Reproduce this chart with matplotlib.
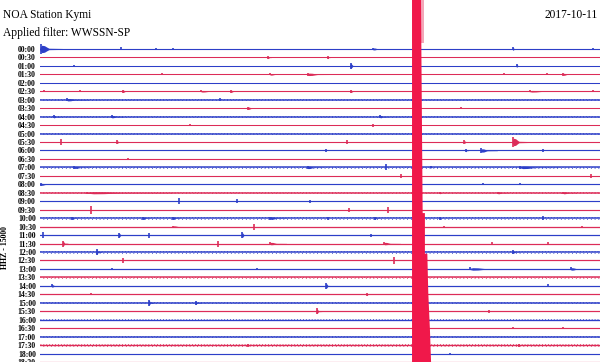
# Helicorder plot - NOA station Kymi, 2017-10-11
import matplotlib
matplotlib.use('Agg')
import matplotlib.pyplot as plt
import numpy as np

# ---- data -------------------------------------------------------------
row_labels = ['%02d:%02d' % (h, m) for h in range(19) for m in (0, 30)][:38]

# background noise level per 30-min line (fraction of line spacing)
noise_level = [0.05, 0.04, 0.04, 0.04, 0.04, 0.05, 0.12, 0.04, 0.12, 0.04,
               0.12, 0.05, 0.06, 0.05, 0.12, 0.05, 0.06, 0.12, 0.06, 0.06,
               0.12, 0.08, 0.07, 0.07, 0.12, 0.07, 0.07, 0.12, 0.07, 0.07,
               0.12, 0.07, 0.09, 0.06, 0.12, 0.10, 0.06, 0.06]

# local events: line index, onset (minutes), amplitude (fraction of spacing), duration (minutes)
ev_row = [0, 0, 0, 0, 0, 0, 0,
          1, 1, 2, 2, 2,
          3, 3, 3, 3, 3, 3,
          5, 5, 5, 5, 5, 5, 5, 5,
          6, 6, 7, 7, 8, 8, 8, 9, 9,
          11, 11, 11, 11, 11,
          12, 12, 12, 12, 13,
          14, 14, 14, 14, 14, 15, 15, 16, 16, 16,
          17, 17, 17, 17, 18, 18, 18, 19, 19, 19,
          20, 20, 20, 20, 20, 20, 20, 20,
          21, 21, 21, 21, 22, 22, 22, 22, 22,
          23, 23, 23, 23, 23, 23, 24, 24, 25, 25,
          26, 26, 26, 26, 28, 28, 28, 29, 29,
          30, 30, 31, 31, 33, 33, 35, 35, 36]
ev_time = [0.0, 4.3, 6.2, 7.1, 17.8, 25.3, 29.6,
           12.2, 15.4, 1.8, 16.6, 25.5,
           6.5, 12.3, 14.3, 24.8, 27.1, 28.0,
           0.2, 2.1, 4.4, 8.6, 10.2, 16.6, 26.2, 29.6,
           1.4, 9.6, 11.1, 22.5, 0.7, 3.8, 18.2, 8.0, 17.8,
           1.1, 4.1, 16.4, 22.7, 25.3,
           15.3, 22.8, 23.6, 26.9, 4.7,
           1.8, 14.3, 18.5, 20.9, 25.7, 19.3, 29.5, 0.0, 23.7, 25.7,
           2.5, 21.4, 24.5, 28.0, 7.4, 10.5, 14.4, 2.7, 16.5, 18.6,
           1.7, 5.5, 7.1, 12.3, 15.4, 17.9, 21.4, 26.9,
           7.1, 11.4, 21.6, 29.0, 0.1, 4.2, 5.8, 10.8, 17.7,
           1.2, 9.5, 12.3, 18.4, 24.2, 27.2, 3.0, 25.3, 4.4, 18.9,
           3.8, 11.6, 23.0, 28.4, 0.6, 15.3, 27.2, 2.7, 17.5,
           5.8, 8.3, 14.8, 24.0, 25.3, 28.0, 11.1, 25.6, 21.9]
ev_amp = [0.55, 0.18, 0.12, 0.12, 0.15, 0.18, 0.12,
          0.18, 0.18, 0.12, 0.35, 0.18,
          0.12, 0.12, 0.18, 0.12, 0.12, 0.15,
          0.12, 0.12, 0.18, 0.12, 0.15, 0.18, 0.12, 0.12,
          0.18, 0.18, 0.18, 0.12, 0.18, 0.18, 0.18, 0.12, 0.18,
          0.35, 0.18, 0.18, 0.18, 0.55,
          0.18, 0.18, 0.25, 0.18, 0.12,
          0.15, 0.18, 0.35, 0.12, 0.18, 0.25, 0.25, 0.15, 0.12, 0.12,
          0.15, 0.15, 0.15, 0.15, 0.35, 0.25, 0.18, 0.45, 0.25, 0.35,
          0.18, 0.18, 0.18, 0.18, 0.18, 0.18, 0.18, 0.25,
          0.12, 0.35, 0.12, 0.12, 0.35, 0.3, 0.3, 0.35, 0.18,
          0.35, 0.35, 0.18, 0.18, 0.18, 0.18, 0.35, 0.18, 0.35, 0.4,
          0.15, 0.15, 0.18, 0.18, 0.18, 0.35, 0.18, 0.12, 0.18,
          0.35, 0.25, 0.35, 0.18, 0.12, 0.12, 0.18, 0.18, 0.12]
ev_dur = [1.2, 0.0, 0.0, 0.0, 0.75, 0.3, 0.0,
          0.2, 0.15, 0.0, 0.4, 0.3,
          0.0, 0.7, 1.4, 0.0, 0.0, 0.55,
          0.0, 0.0, 0.4, 1.1, 0.4, 0.4, 1.8, 0.0,
          1.2, 0.0, 0.55, 0.0, 0.4, 0.7, 0.4, 0.0, 0.0,
          0.0, 0.3, 0.0, 0.3, 0.9,
          0.0, 0.15, 0.9, 0.0, 0.0,
          0.9, 0.85, 0.0, 0.15, 2.1, 0.0, 0.0, 0.7, 0.0, 0.0,
          4.6, 0.15, 0.55, 0.75, 0.0, 0.0, 0.0, 0.0, 0.0, 0.0,
          0.3, 0.4, 0.4, 0.9, 0.0, 0.3, 0.15, 0.0,
          0.75, 0.0, 0.0, 0.0, 0.0, 0.3, 0.0, 0.3, 0.0,
          0.3, 0.0, 0.9, 0.9, 0.0, 0.0, 0.3, 0.4, 0.0, 0.0,
          0.0, 0.0, 2.3, 0.9, 0.45, 0.3, 0.0, 0.0, 0.15,
          0.3, 0.3, 0.3, 0.0, 0.0, 0.0, 0.15, 0.15, 0.0]

# the large event: onset (min) and right edge of the coda along the drum
quake_start = 19.93
quake_top_edge = 20.55
quake_edge_row = [-5.8, 8.4, 19.4, 19.4, 24.2, 24.2, 28.8, 33.2, 37.0]
quake_edge_min = [20.41, 20.46, 20.50, 20.62, 20.62, 20.75, 20.80, 20.89, 20.95]

# ---- figure -----------------------------------------------------------
blue = '#2d3fc8'
red = '#dc2c58'
fig = plt.figure(figsize=(6.0, 3.62), dpi=100)
ax = fig.add_axes([40 / 600, 0, 560 / 600, 1])
ax.set_xlim(0, 30)
ax.set_ylim(36.95, -5.785)

for i in range(len(row_labels)):
    c = blue if i % 2 == 0 else red
    n = noise_level[i]
    # noisy lines: thin dotted fringe above and below the trace
    if n > 0.08:
        ax.plot([0, 30], [i - n * 0.7, i - n * 0.7], color=c, lw=0.6, ls=(0, (1, 2.5)), zorder=1)
        ax.plot([0, 30], [i + n * 0.7, i + n * 0.7], color=c, lw=0.6, ls=(1, (1, 3.5)), zorder=1)
    ax.plot([0, 30], [i, i], color=c, lw=0.6 + 4 * n, zorder=1)

for r, t, a, d in zip(ev_row, ev_time, ev_amp, ev_dur):
    c = blue if r % 2 == 0 else red
    ax.vlines(t + 0.04, r - a, r + a, color=c, lw=1.2, zorder=2)
    if d > 0:
        # wave packet: short strong onset, then a thin tail
        xs = [t, t + 0.08 * d, t + 0.2 * d, t + 0.32 * d, t + 0.4 * d, t + d]
        hi = [r + a * 0.3, r + a * 0.8, r + a * 0.7, r + a * 0.35, r + a * 0.15, r + a * 0.1]
        lo = [2 * r - y for y in hi]
        ax.fill_between(xs, lo, hi, color=c, lw=0, zorder=2)

# big quake, saturating every line
ax.fill_betweenx([-5.8, -0.7], quake_start, quake_top_edge, color='#f4a6b8', lw=0, zorder=5)
ax.fill_betweenx(quake_edge_row, quake_start, quake_edge_min, color='#f0184a', lw=0, zorder=6)

ax.set_yticks(range(len(row_labels)))
ax.set_yticklabels(row_labels, fontsize=5.6, fontweight='bold', family='Liberation Serif')
ax.tick_params(axis='y', length=0, pad=3)
ax.set_xticks([])
for s in ax.spines.values():
    s.set_visible(False)

fig.text(3 / 600, 1 - 15 / 362, 'NOA Station Kymi', fontsize=8.3, family='Liberation Serif',
         va='center', ha='left')
fig.text(3 / 600, 1 - 33 / 362, 'Applied filter: WWSSN-SP', fontsize=8.3,
         family='Liberation Serif', va='center', ha='left')
fig.text(598 / 600, 1 - 15 / 362, '2017-10-11', fontsize=8.3, family='Liberation Serif',
         va='center', ha='right')
fig.text(5 / 600, 1 - 248 / 362, 'HHZ - 15000', fontsize=5.6, fontweight='bold',
         family='Liberation Serif', rotation=90, va='center', ha='center')

fig.savefig('out.png', dpi=100)
